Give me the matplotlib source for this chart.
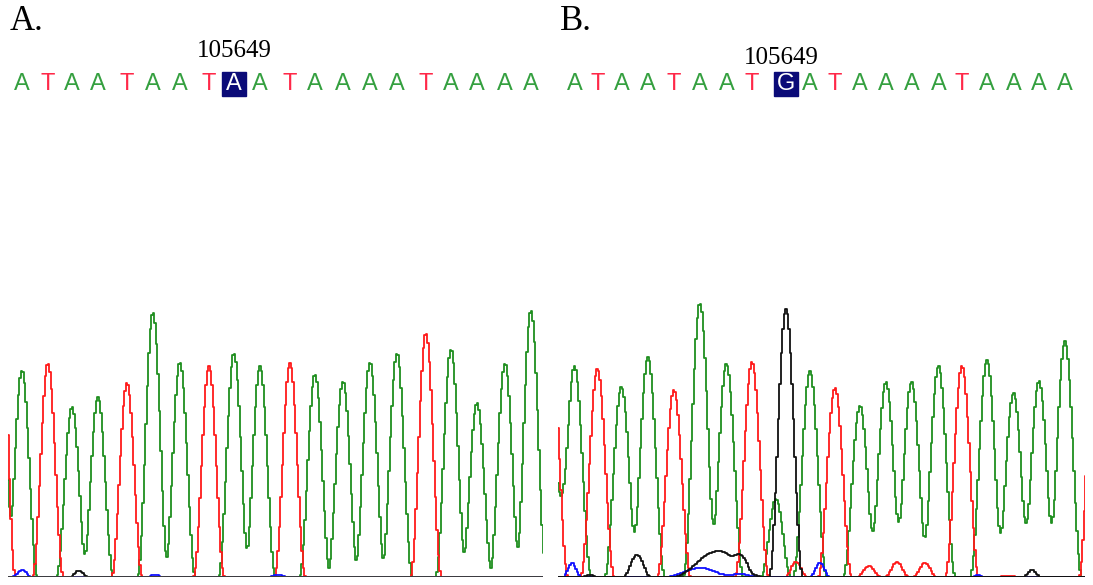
import numpy as np
import matplotlib.pyplot as plt
from matplotlib.patches import Rectangle


# base calls above each trace
bases_a = list("ATAATAATAATAAAATAAAA")
bases_b = list("ATAATAATGATAAAATAAAA")
snp_index = 8
snp_label = "105649"

# called peaks: position (scan units) and height
pos_a = [22, 48, 72, 98, 127, 153, 180, 209, 234, 260,
         290, 315, 343, 370, 397, 426, 451, 477, 505, 531]
height_a = [207, 214, 170, 180, 194, 265, 215, 211, 224, 211,
            214, 203, 196, 215, 224, 244, 228, 174, 214, 267]

pos_b = [574.5, 597.5, 621.5, 648, 674, 700, 726.5, 752, 786, 810,
         835, 860, 886, 911.5, 938.5, 962, 987, 1013.5, 1039, 1065]
height_b = [211, 208, 190, 220, 187, 274, 213, 215, 268, 206,
            189, 171, 195, 195, 211, 211, 217, 184, 196, 236]

# other signal: edge peaks and background bumps (base, position, height, half width)
extra_a = [("T", 0, 300, 15.5), ("A", -2, 330, 15.5),
           ("C", 22, 7, 10), ("G", 79, 6.5, 9),
           ("C", 155, 2.5, 8), ("C", 278, 2.5, 9)]
extra_b = [("T", 552, 215, 16), ("A", 553, 121, 16), ("A", 776, 78, 15),
           ("T", 1095, 250, 16),
           ("C", 572, 14, 9), ("C", 700, 9, 35), ("C", 740, 3, 20),
           ("C", 820, 14, 10), ("C", 978, 2, 6),
           ("G", 590, 2, 8), ("G", 637, 22, 14), ("G", 718, 26, 45),
           ("G", 742, 10, 12), ("G", 1032, 7, 9),
           ("T", 796, 15, 11), ("T", 869, 11, 12), ("T", 897, 15, 12),
           ("T", 925, 14, 12), ("T", 1008, 1.5, 12)]

trace_colors = {"A": "#1f8f1f", "T": "#ff1a1a", "G": "#111111", "C": "#1010ff"}
letter_colors = {"A": "#35a040", "T": "#ff2848", "G": "#111111", "C": "#1010ff"}

fig = plt.figure(figsize=(10.93, 5.85), dpi=100)
W, H = 1093, 585
base_px = 577


def peak(x, p, h, w):
    # raised-cosine peak shape
    d = np.clip(np.abs(x - p) / w, 0, 1)
    return h * np.cos(np.pi * d / 2) ** 2


def draw_panel(left, right, bases, pos, heights, extra, width, panel, num_xy,
               base_color, base_lw):
    ax = fig.add_axes([left / W, (H - base_px) / H, (right - left) / W, base_px / H])
    ax.set_xlim(left, right)
    ax.set_ylim(0, base_px)
    ax.axis("off")

    x = np.arange(left - 3, right + 3, 1.5)
    signal = {b: np.zeros_like(x) for b in "ATGC"}
    for b, p, h in zip(bases, pos, heights):
        signal[b] += peak(x, p, h, width)
    for b, p, h, w in extra:
        signal[b] += peak(x, p, h, w)
    for b in ["A", "T", "C", "G"]:
        ax.plot(x, signal[b], color=trace_colors[b], lw=1.3,
                drawstyle="steps-mid", zorder=2)
    ax.axhline(0, color=base_color, lw=base_lw, zorder=3)

    # base calls
    ly = base_px - 83.5
    for i, (b, p) in enumerate(zip(bases, pos)):
        c = letter_colors[b]
        if i == snp_index:
            ax.add_patch(Rectangle((p - 12, ly - 12), 24, 24, color="#0b0b78",
                                   clip_on=False, zorder=4))
            c = "white"
        ax.text(p, ly, b, color=c, fontsize=17, family="Liberation Sans",
                ha="center", va="center", zorder=5)

    ax.text(num_xy[0], base_px - num_xy[1], snp_label, fontsize=18,
            family="Liberation Serif", ha="center", va="center")
    ax.text(left + 2, base_px - 21, panel, fontsize=25,
            family="Liberation Serif", ha="left", va="center")
    return ax


draw_panel(8, 543, bases_a, pos_a, height_a, extra_a, 15.5, "A.", (234, 51),
           "#4a4a4a", 1.8)
draw_panel(558, 1085, bases_b, pos_b, height_b, extra_b, 16.9, "B.", (781, 58),
           "#111111", 1.2)

fig.savefig("out.png", dpi=100)
